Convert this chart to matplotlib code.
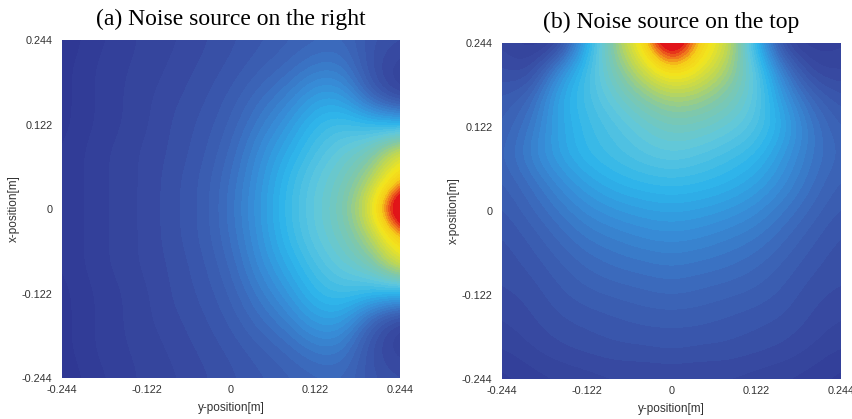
import numpy as np
import matplotlib
matplotlib.use("Agg")
import matplotlib.pyplot as plt
from matplotlib.colors import LinearSegmentedColormap

# ---------------- data (normalised level) ----------------
titles = ["(a) Noise source on the right", "(b) Noise source on the top"]
tick_values = [-0.244, -0.122, 0, 0.122, 0.244]
tick_labels = ["-0.244", "-0.122", "0", "0.122", "0.244"]
xlabel = "y-position[m]"
ylabel = "x-position[m]"
half = 0.244

# rows: x-position from +0.244 (top) to -0.244 (bottom); cols: y-position -0.244 .. +0.244
field_right = [
    [0.02, 0.05, 0.07, 0.09, 0.10, 0.12, 0.14, 0.16, 0.18, 0.20, 0.21, 0.15, 0.13],
    [0.03, 0.06, 0.08, 0.09, 0.11, 0.13, 0.15, 0.18, 0.21, 0.26, 0.26, 0.13, 0.08],
    [0.03, 0.06, 0.08, 0.10, 0.12, 0.14, 0.17, 0.22, 0.27, 0.35, 0.35, 0.18, 0.08],
    [0.03, 0.06, 0.08, 0.10, 0.13, 0.15, 0.19, 0.26, 0.33, 0.42, 0.45, 0.42, 0.40],
    [0.04, 0.07, 0.09, 0.11, 0.13, 0.16, 0.21, 0.30, 0.38, 0.46, 0.52, 0.57, 0.76],
    [0.04, 0.07, 0.09, 0.11, 0.14, 0.17, 0.23, 0.32, 0.42, 0.50, 0.56, 0.67, 0.89],
    [0.04, 0.07, 0.09, 0.11, 0.14, 0.17, 0.24, 0.33, 0.43, 0.51, 0.58, 0.77, 1.20],
    [0.04, 0.07, 0.09, 0.11, 0.14, 0.17, 0.23, 0.32, 0.42, 0.50, 0.56, 0.67, 0.89],
    [0.04, 0.07, 0.09, 0.11, 0.13, 0.16, 0.21, 0.30, 0.38, 0.46, 0.52, 0.57, 0.76],
    [0.03, 0.06, 0.08, 0.10, 0.13, 0.15, 0.19, 0.26, 0.33, 0.42, 0.45, 0.42, 0.40],
    [0.03, 0.06, 0.08, 0.10, 0.12, 0.14, 0.17, 0.22, 0.27, 0.35, 0.35, 0.18, 0.08],
    [0.03, 0.06, 0.08, 0.09, 0.11, 0.13, 0.15, 0.18, 0.21, 0.26, 0.26, 0.13, 0.08],
    [0.02, 0.05, 0.07, 0.09, 0.10, 0.12, 0.14, 0.16, 0.18, 0.20, 0.21, 0.15, 0.13],
]

field_top = [
    [0.10, 0.06, 0.06, 0.38, 0.64, 0.84, 1.18, 0.86, 0.74, 0.40, 0.08, 0.06, 0.08],
    [0.13, 0.10, 0.30, 0.45, 0.58, 0.72, 0.86, 0.78, 0.66, 0.50, 0.25, 0.10, 0.10],
    [0.17, 0.20, 0.38, 0.45, 0.52, 0.60, 0.66, 0.64, 0.58, 0.50, 0.33, 0.20, 0.15],
    [0.18, 0.25, 0.36, 0.43, 0.47, 0.52, 0.56, 0.55, 0.52, 0.47, 0.38, 0.25, 0.18],
    [0.20, 0.28, 0.36, 0.42, 0.45, 0.48, 0.50, 0.48, 0.45, 0.42, 0.33, 0.25, 0.20],
    [0.18, 0.23, 0.30, 0.36, 0.40, 0.42, 0.43, 0.42, 0.40, 0.36, 0.30, 0.23, 0.18],
    [0.16, 0.20, 0.25, 0.30, 0.33, 0.35, 0.36, 0.35, 0.33, 0.30, 0.25, 0.20, 0.16],
    [0.14, 0.17, 0.21, 0.25, 0.27, 0.29, 0.30, 0.29, 0.27, 0.25, 0.21, 0.17, 0.14],
    [0.13, 0.15, 0.18, 0.21, 0.23, 0.24, 0.25, 0.24, 0.23, 0.21, 0.18, 0.15, 0.13],
    [0.12, 0.13, 0.16, 0.18, 0.19, 0.20, 0.21, 0.20, 0.19, 0.18, 0.16, 0.13, 0.12],
    [0.10, 0.12, 0.14, 0.15, 0.16, 0.17, 0.17, 0.17, 0.16, 0.15, 0.14, 0.12, 0.10],
    [0.08, 0.10, 0.12, 0.13, 0.14, 0.14, 0.15, 0.14, 0.14, 0.13, 0.12, 0.10, 0.08],
    [0.05, 0.07, 0.08, 0.09, 0.10, 0.10, 0.10, 0.10, 0.10, 0.09, 0.08, 0.07, 0.05],
]

fields = [field_right, field_top]

# ---------------- colormap (colours) ----------------
cmap_stops = [
    (0.00, (45, 52, 145)),
    (0.10, (55, 72, 160)),
    (0.20, (60, 102, 185)),
    (0.30, (55, 140, 215)),
    (0.40, (45, 180, 235)),
    (0.50, (95, 200, 222)),
    (0.60, (128, 200, 170)),
    (0.70, (190, 215, 85)),
    (0.80, (242, 230, 30)),
    (0.88, (246, 205, 25)),
    (0.94, (240, 115, 30)),
    (1.00, (225, 20, 25)),
]
cmap = LinearSegmentedColormap.from_list(
    "noise", [(p, tuple(c / 255 for c in rgb)) for p, rgb in cmap_stops], N=48)

# ---------------- figure ----------------
fig = plt.figure(figsize=(8.53, 4.19), dpi=100)
positions = [
    [62 / 853, 1 - 378 / 419, 338 / 853, 338 / 419],
    [502 / 853, 1 - 379 / 419, 339 / 853, 336 / 419],
]
label_color = "#333333"
sans = ["Liberation Sans", "DejaVu Sans"]

for pos, title, data in zip(positions, titles, fields):
    ax = fig.add_axes(pos)
    arr = np.array(data, dtype=float)
    n = arr.shape[0]
    d = 2 * half / (n - 1)
    ax.imshow(arr, cmap=cmap, vmin=0, vmax=1, origin="upper",
              extent=[-half - d / 2, half + d / 2, -half - d / 2, half + d / 2],
              interpolation="bicubic", interpolation_stage="data", aspect="auto")
    ax.set_xlim(-half, half)
    ax.set_ylim(-half, half)
    for s in ax.spines.values():
        s.set_visible(False)
    ax.set_xticks(tick_values)
    ax.set_xticklabels(tick_labels, family=sans)
    ax.set_yticks(tick_values)
    ax.set_yticklabels(tick_labels, family=sans)
    ax.tick_params(length=0, labelsize=7.8, colors=label_color)
    ax.tick_params(axis="x", pad=5)
    ax.tick_params(axis="y", pad=7)
    ax.set_xlabel(xlabel, fontsize=8.5, color=label_color, family=sans)
    ax.set_ylabel(ylabel, fontsize=8.5, color=label_color, family=sans)
    ax.xaxis.set_label_coords(0.5, -0.071)
    ax.yaxis.set_label_coords(-0.124, 0.5)
    ax.set_title(title, fontsize=17, family="Liberation Serif", pad=11)

fig.savefig("out.png", dpi=100)
